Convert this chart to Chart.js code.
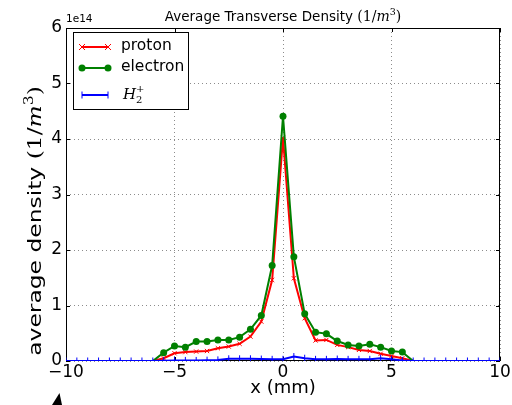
<!DOCTYPE html>
<html>
<head>
<meta charset="utf-8">
<script src="https://cdn.jsdelivr.net/npm/chart.js@4.4.1/dist/chart.umd.min.js"></script>
<style>
  html, body { margin: 0; padding: 0; background: #fff; }
  #wrap { width: 512px; height: 405px; }
</style>
</head>
<body>
<div id="wrap"><canvas id="densityChart" width="512" height="405"></canvas></div>
<script>
// ── data (density in units of 1e14 1/m^3) ────────────────────────────────

const xPositions = [
  -10, -9.5, -9, -8.5, -8, -7.5, -7, -6.5, -6, -5.5, -5, -4.5, -4, -3.5,
  -3, -2.5, -2, -1.5, -1, -0.5, 0, 0.5, 1, 1.5, 2, 2.5, 3, 3.5, 4, 4.5,
  5, 5.5, 6, 6.5, 7, 7.5, 8, 8.5, 9, 9.5, 10,
];
const protonDensity = [
  0, 0, 0, 0, 0, 0, 0, 0, 0, 0.05, 0.14, 0.16, 0.17, 0.18,
  0.23, 0.26, 0.31, 0.44, 0.71, 1.46, 4.02, 1.49, 0.77, 0.37, 0.38, 0.29, 0.25, 0.2, 0.18, 0.13,
  0.09, 0.05, 0, 0, 0, 0, 0, 0, 0, 0, 0,
];
const electronDensity = [
  0, 0, 0, 0, 0, 0, 0, 0, 0, 0.15, 0.27, 0.25, 0.35, 0.35,
  0.38, 0.38, 0.43, 0.57, 0.82, 1.72, 4.41, 1.88, 0.85, 0.52, 0.49, 0.36, 0.29, 0.27, 0.3, 0.25,
  0.18, 0.16, 0, 0, 0, 0, 0, 0, 0, 0, 0,
];
const h2Density = [
  0, 0, 0, 0, 0, 0, 0, 0, 0, 0.005, 0.01, 0.01, 0.01, 0.015,
  0.02, 0.04, 0.04, 0.04, 0.035, 0.03, 0.03, 0.08, 0.05, 0.03, 0.03, 0.035, 0.03, 0.03, 0.03, 0.05,
  0.03, 0.01, 0, 0, 0, 0, 0, 0, 0, 0, 0,
];
const seriesLabels = ["proton", "electron", "H2+"];
const xTicks = [-10, -5, 0, 5, 10];
const yTicks = [0, 1, 2, 3, 4, 5, 6];
const offsetLabel = "1e14";

const RED = "#ff0000";
const GREEN = "#008000";
const BLUE = "#0000ff";

function toPoints(values) {
  return xPositions.map((x, i) => ({ x: x, y: values[i] }));
}

// markers sitting on the zero line are hidden under the axis in the original
const hideAtZero = (r) => (ctx) => (ctx.raw && ctx.raw.y === 0 ? 0 : r);

// ── text helpers ──────────────────────────────────────────────────────────

function drawParts(ctx, parts, x, y, align) {
  let width = 0;
  parts.forEach((p) => {
    ctx.font = p.f;
    p.w = ctx.measureText(p.t).width;
    width += p.w;
  });
  let cx = align === "center" ? x - width / 2 : x;
  ctx.textAlign = "left";
  ctx.textBaseline = "alphabetic";
  parts.forEach((p) => {
    ctx.font = p.f;
    ctx.fillText(p.t, cx, y + (p.dy || 0));
    cx += p.w;
  });
}

const decorPlugin = {
  id: "decor",
  beforeDatasetsDraw(chart) {
    const { ctx, chartArea: a } = chart;
    ctx.save();
    ctx.strokeStyle = "#000";
    ctx.lineWidth = 1;
    ctx.strokeRect(a.left + 0.5, a.top + 0.5, a.right - a.left - 1, a.bottom - a.top - 1);
    // inward tick marks on all sides
    const xs = chart.scales.x, ys = chart.scales.y;
    ctx.beginPath();
    xTicks.forEach((v) => {
      const px = Math.round(xs.getPixelForValue(v)) + 0.5;
      ctx.moveTo(px, a.bottom); ctx.lineTo(px, a.bottom - 4);
      ctx.moveTo(px, a.top); ctx.lineTo(px, a.top + 4);
    });
    yTicks.forEach((v) => {
      const py = Math.round(ys.getPixelForValue(v)) + 0.5;
      ctx.moveTo(a.left, py); ctx.lineTo(a.left + 4, py);
      ctx.moveTo(a.right, py); ctx.lineTo(a.right - 4, py);
    });
    ctx.stroke();
    ctx.restore();
  },
  afterDraw(chart) {
    const { ctx, chartArea: a } = chart;
    const mid = (a.left + a.right) / 2;
    ctx.save();
    ctx.fillStyle = "#000";

    // title
    drawParts(ctx, [
      { t: "Average Transverse Density ", f: "13.5px 'DejaVu Sans'" },
      { t: "(1/", f: "14px 'DejaVu Serif'" },
      { t: "m", f: "italic 14px 'DejaVu Serif'" },
      { t: "3", f: "9.5px 'DejaVu Serif'", dy: -6 },
      { t: ")", f: "14px 'DejaVu Serif'" },
    ], mid, 21, "center");

    // offset text
    ctx.font = "10.5px 'DejaVu Sans'";
    ctx.fillText(offsetLabel, a.left, 22);

    // x title
    drawParts(ctx, [{ t: "x (mm)", f: "18px 'DejaVu Sans'" }], mid, 393, "center");

    // y title (stretched along its length like the original)
    ctx.save();
    ctx.translate(41, 221);
    ctx.rotate(-Math.PI / 2);
    ctx.scale(1.3, 1);
    drawParts(ctx, [
      { t: "average density ", f: "18px 'DejaVu Sans'" },
      { t: "(1/", f: "18px 'DejaVu Serif'" },
      { t: "m", f: "italic 18px 'DejaVu Serif'" },
      { t: "3", f: "12px 'DejaVu Serif'", dy: -8 },
      { t: ")", f: "18px 'DejaVu Serif'" },
    ], 0, 0, "center");
    ctx.restore();

    // legend
    const lx = 73, ly = 32, lw = 115, lh = 77;
    ctx.fillStyle = "#fff";
    ctx.fillRect(lx, ly, lw, lh);
    ctx.strokeStyle = "#000";
    ctx.lineWidth = 1;
    ctx.strokeRect(lx + 0.5, ly + 0.5, lw, lh);
    const rows = [47, 68, 95];
    const colors = [RED, GREEN, BLUE];
    rows.forEach((ry, i) => {
      ctx.strokeStyle = colors[i];
      ctx.fillStyle = colors[i];
      ctx.lineWidth = 2;
      ctx.beginPath();
      ctx.moveTo(82, ry); ctx.lineTo(108, ry);
      ctx.stroke();
      ctx.lineWidth = 1;
      [82, 108].forEach((mx) => {
        ctx.beginPath();
        if (i === 0) {
          ctx.moveTo(mx - 3, ry - 3); ctx.lineTo(mx + 3, ry + 3);
          ctx.moveTo(mx - 3, ry + 3); ctx.lineTo(mx + 3, ry - 3);
          ctx.stroke();
        } else if (i === 1) {
          ctx.arc(mx, ry, 3.5, 0, Math.PI * 2);
          ctx.fill();
        } else {
          ctx.moveTo(mx, ry - 3.5); ctx.lineTo(mx, ry + 3.5);
          ctx.stroke();
        }
      });
    });
    ctx.fillStyle = "#000";
    ctx.font = "15.5px 'DejaVu Sans'";
    ctx.textBaseline = "middle";
    ctx.fillText(seriesLabels[0], 121, rows[0] - 1);
    ctx.fillText(seriesLabels[1], 121, rows[1] - 1);
    ctx.textBaseline = "alphabetic";
    ctx.font = "italic 15px 'DejaVu Serif'";
    ctx.fillText("H", 123, 99);
    const hw = ctx.measureText("H").width;
    ctx.font = "10px 'DejaVu Serif'";
    ctx.fillText("2", 123 + hw, 103);
    ctx.fillText("+", 123 + hw, 92);

    // stray cursor tip at the bottom-left
    ctx.fillStyle = "#000";
    ctx.beginPath();
    ctx.moveTo(59.5, 393);
    ctx.lineTo(62, 405);
    ctx.lineTo(52, 405);
    ctx.closePath();
    ctx.fill();
    ctx.restore();
  },
};

// ── chart ────────────────────────────────────────────────────────────────

new Chart(document.getElementById("densityChart"), {
  type: "line",
  data: {
    datasets: [
      {
        label: seriesLabels[0],
        data: toPoints(protonDensity),
        borderColor: RED,
        borderWidth: 2,
        pointStyle: "crossRot",
        pointRadius: hideAtZero(3),
        pointBorderColor: RED,
        pointBorderWidth: 1,
        order: 3,
      },
      {
        label: seriesLabels[1],
        data: toPoints(electronDensity),
        borderColor: GREEN,
        borderWidth: 2,
        pointStyle: "circle",
        pointRadius: hideAtZero(3.5),
        pointBackgroundColor: GREEN,
        pointBorderColor: GREEN,
        pointBorderWidth: 0,
        order: 2,
      },
      {
        label: seriesLabels[2],
        data: toPoints(h2Density),
        borderColor: BLUE,
        borderWidth: 2,
        pointStyle: "line",
        rotation: 90,
        pointRadius: 3.5,
        pointBorderColor: BLUE,
        pointBorderWidth: 1,
        order: 1,
      },
    ],
  },
  options: {
    responsive: false,
    animation: false,
    devicePixelRatio: 1,
    layout: { padding: { top: 28, right: 12, left: 0, bottom: 0 } },
    elements: { line: { tension: 0 } },
    plugins: {
      legend: { display: false },
      title: { display: false },
      tooltip: { enabled: false },
    },
    datasets: { line: { clip: 0 } },
    scales: {
      x: {
        type: "linear",
        min: -10,
        max: 10,
        afterBuildTicks: (scale) => { scale.ticks = xTicks.map((v) => ({ value: v })); },
        afterFit: (scale) => { scale.height = 44; },
        grid: { color: "rgba(0,0,0,0.45)", drawTicks: false, lineWidth: 1 },
        border: { display: false, dash: [1, 3] },
        ticks: {
          font: { family: "'DejaVu Sans'", size: 17 },
          color: "#000",
          padding: 1,
          maxRotation: 0,
          callback: (v) => (v < 0 ? "\u2212" + Math.abs(v) : String(v)),
        },
      },
      y: {
        type: "linear",
        min: 0,
        max: 6,
        afterBuildTicks: (scale) => { scale.ticks = yTicks.map((v) => ({ value: v })); },
        afterFit: (scale) => { scale.width = 66; },
        grid: { color: "rgba(0,0,0,0.45)", drawTicks: false, lineWidth: 1 },
        border: { display: false, dash: [1, 3] },
        ticks: {
          font: { family: "'DejaVu Sans'", size: 17 },
          color: "#000",
          padding: 4,
          callback: (v) => String(v),
        },
      },
    },
  },
  plugins: [decorPlugin],
});
</script>
</body>
</html>
